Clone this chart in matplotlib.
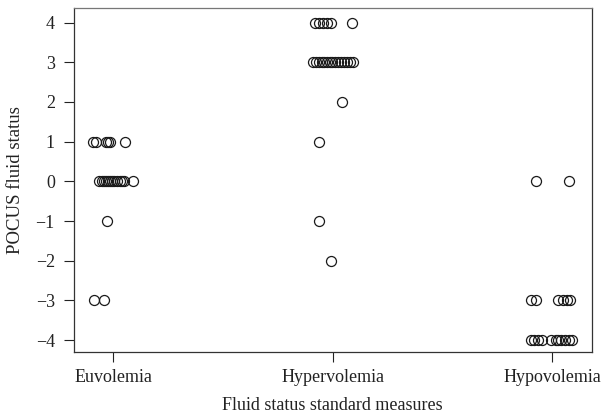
import numpy as np
import matplotlib
matplotlib.use("Agg")
from matplotlib import pyplot as plt

plt.rcParams['font.family'] = ['Liberation Serif', 'DejaVu Serif']

# categories and tick labels
groups = ['Euvolemia', 'Hypervolemia', 'Hypovolemia']

# POCUS fluid status values per group, with horizontal jitter
euv_vals = [1, 1, 1, 1, 1, 1,
            0, 0, 0, 0, 0, 0, 0, 0, 0, 0, 0, 0, 0,
            -1, -3, -3]
euv_jit = [-0.091, -0.077, -0.032, -0.023, -0.014, 0.055,
           -0.064, -0.050, -0.041, -0.032, -0.023, -0.014, -0.005, 0.005, 0.018, 0.032, 0.041, 0.050, 0.091,
           -0.027, -0.087, -0.041]

hyper_vals = [4, 4, 4, 4, 4, 4,
              3, 3, 3, 3, 3, 3, 3, 3, 3, 3, 3, 3, 3, 3, 3,
              2, 1, -1, -2]
hyper_jit = [-0.082, -0.064, -0.046, -0.027, -0.009, 0.087,
             -0.091, -0.077, -0.064, -0.050, -0.041, -0.027, -0.014, -0.005, 0.009, 0.023, 0.036, 0.050, 0.064, 0.077, 0.091,
             0.041, -0.064, -0.064, -0.009]

hypo_vals = [0, 0,
             -3, -3, -3, -3, -3, -3,
             -4, -4, -4, -4, -4, -4, -4, -4, -4, -4, -4]
hypo_jit = [-0.073, 0.077,
            -0.096, -0.077, 0.027, 0.046, 0.064, 0.082,
            -0.096, -0.082, -0.064, -0.046, -0.005, 0.014, 0.027, 0.041, 0.055, 0.073, 0.091]

yticks = [-4, -3, -2, -1, 0, 1, 2, 3, 4]

fig = plt.figure(figsize=(6.03, 4.19), dpi=100)
ax = fig.add_axes([0.1219, 0.160, 0.8599, 0.822])

all_vals = [euv_vals, hyper_vals, hypo_vals]
all_jit = [euv_jit, hyper_jit, hypo_jit]
for i in range(len(groups)):
    x = (i + 1) + np.array(all_jit[i])
    ax.plot(x, all_vals[i], linestyle='none', marker='o', markersize=7.2,
            markerfacecolor='none', markeredgecolor='#1a1a1a', markeredgewidth=0.9)

ax.set_xlim(0.82, 3.18)
ax.set_ylim(-4.30, 4.38)
ax.set_xticks([1, 2, 3])
ax.set_xticklabels(groups)
ax.set_yticks(yticks)
ax.set_yticklabels([str(v).replace('-', '\u2212') for v in yticks])
ax.tick_params(axis='both', direction='out', length=7.5, width=0.8,
               labelsize=13, colors='#222222', pad=5)
ax.tick_params(axis='y', pad=6)
for s in ax.spines.values():
    s.set_linewidth(0.9)
    s.set_color('#333333')
ax.spines['top'].set_color('#777777')

ax.set_xlabel('Fluid status standard measures', fontsize=13, color='#222222', labelpad=8)
ax.set_ylabel('POCUS fluid status', fontsize=13.5, color='#222222', labelpad=8)

fig.savefig('out.png', dpi=100)
